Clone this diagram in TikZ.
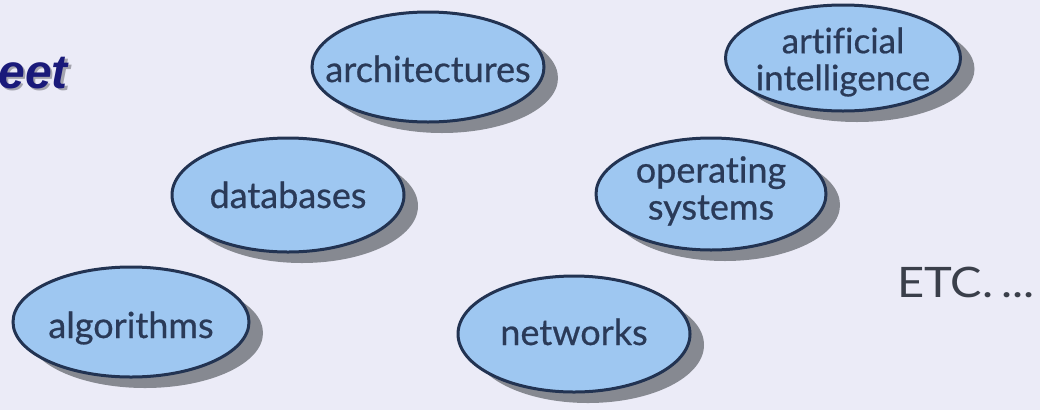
\documentclass[tikz,border=0pt]{standalone}
\usepackage{fontspec}
\setmainfont{Lato}[Ligatures=NoCommon]
\newfontfamily\topicfont{Lato}[Ligatures=NoCommon, FakeBold=0.6]
\newfontfamily\arialfont{Liberation Sans}
\usetikzlibrary{shapes.geometric,shadows}
\definecolor{bgcol}{HTML}{EBEBF7}
\definecolor{ellfill}{HTML}{9EC7F1}
\definecolor{elldraw}{HTML}{223352}
\definecolor{elltext}{HTML}{2A3A58}
\definecolor{shadowcol}{HTML}{868991}
\definecolor{titleblue}{HTML}{1A1A7A}
\definecolor{titleshadow}{HTML}{A4A4AE}
\definecolor{etccol}{HTML}{3A3F4A}
\tikzset{
  topic/.style={ellipse, draw=elldraw, line width=3pt, fill=ellfill,
    inner sep=0pt,
    drop shadow={shadow xshift=14pt, shadow yshift=-11pt, fill=shadowcol, opacity=1}},
  topictext/.style={text=elltext, inner sep=0pt, align=center,
    font=\topicfont\fontsize{36}{37}\selectfont},
  titletext/.style={anchor=base east, inner sep=0pt,
    font=\arialfont\bfseries\itshape\fontsize{48}{48}\selectfont},
}
\begin{document}
\begin{tikzpicture}[x=1pt,y=-1pt]
\useasboundingbox (0,0) rectangle (1040,410);
\fill[bgcol] (0,0) rectangle (1040,410);
% title fragment (text with its own drop shadow)
\node[titletext] (title) at (68,88)
  {\makebox[0pt][l]{\hspace{2.5pt}\raisebox{-2.5pt}{\color{titleshadow}eet}}\textcolor{titleblue}{eet}};
% topics
\node[topic, minimum width=232pt, minimum height=110pt] (arch) at (428,67) {};
\node[topic, minimum width=235pt, minimum height=106pt] (ai) at (843,58) {};
\node[topic, minimum width=232pt, minimum height=114pt] (db) at (288,195) {};
\node[topic, minimum width=230pt, minimum height=112pt] (os) at (711,194) {};
\node[topic, minimum width=236pt, minimum height=110pt] (alg) at (131,322) {};
\node[topic, minimum width=232pt, minimum height=116pt] (net) at (574,334) {};
\node[topictext, anchor=base] (arch-t) at ([yshift=-15pt]arch.center) {architectures};
\node[topictext, font=\topicfont\fontsize{35}{37}\selectfont] (ai-t) at ([yshift=-4pt]ai.center) {artificial\\intelligence};
\node[topictext, anchor=base] (db-t) at ([yshift=-13pt]db.center) {databases};
\node[topictext] (os-t) at ([yshift=3pt]os.center) {operating\\systems};
\node[topictext, anchor=base] (alg-t) at ([yshift=-16pt]alg.center) {algorithms};
\node[topictext, anchor=base] (net-t) at ([yshift=-11pt]net.center) {networks};
% etc
\node[anchor=base west, inner sep=0pt, text=etccol,
  font=\fontsize{42}{42}\selectfont] (etc) at (897,297) {\scalebox{1.12}[1]{ETC.\,...}};
\end{tikzpicture}
\end{document}
